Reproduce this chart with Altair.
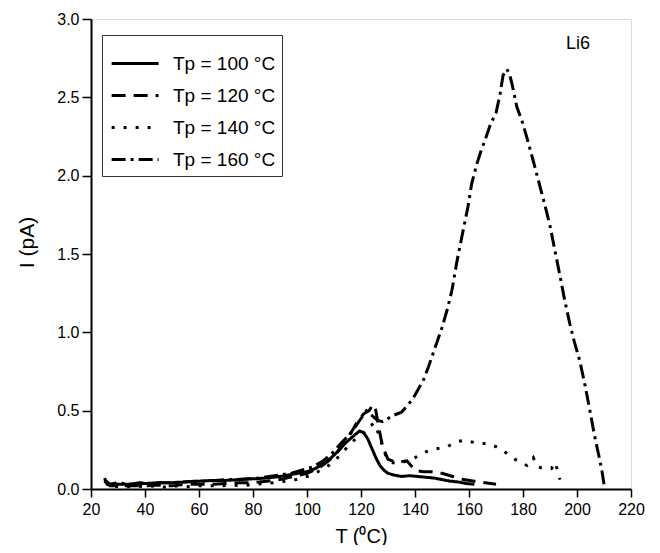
import altair as alt
import pandas as pd

labels = ["Tp = 100 °C", "Tp = 120 °C", "Tp = 140 °C", "Tp = 160 °C"]

T100 = [25, 26, 28, 30, 35, 40, 45, 50, 55, 60, 65, 70, 75, 80, 85, 90, 95, 100, 103, 106, 109, 112, 114, 116, 118, 119.5, 121, 122.5, 124, 125.5, 127, 128.5, 130, 132, 135, 138, 141, 144, 147, 150, 153, 156, 159, 162]
I100 = [0.07, 0.03, 0.03, 0.03, 0.03, 0.035, 0.04, 0.04, 0.045, 0.05, 0.055, 0.055, 0.06, 0.065, 0.07, 0.08, 0.095, 0.11, 0.13, 0.16, 0.2, 0.25, 0.29, 0.32, 0.35, 0.37, 0.36, 0.32, 0.26, 0.2, 0.15, 0.12, 0.1, 0.09, 0.08, 0.085, 0.08, 0.075, 0.07, 0.06, 0.05, 0.045, 0.035, 0.03]

T120 = [25, 27, 30, 35, 40, 45, 50, 55, 60, 65, 70, 75, 80, 85, 90, 95, 100, 104, 108, 111, 114, 117, 119, 121, 123, 124.5, 125.5, 126.5, 128, 130, 133, 137, 140, 143, 146, 150, 154, 158, 162, 166, 170]
I120 = [0.05, 0.02, 0.02, 0.02, 0.02, 0.025, 0.02, 0.03, 0.03, 0.03, 0.035, 0.04, 0.04, 0.05, 0.06, 0.08, 0.1, 0.13, 0.18, 0.23, 0.3, 0.38, 0.44, 0.48, 0.5, 0.54, 0.5, 0.4, 0.27, 0.19, 0.17, 0.18, 0.12, 0.11, 0.11, 0.1, 0.08, 0.06, 0.05, 0.04, 0.03]

T140 = [25, 28, 32, 36, 40, 44, 48, 52, 56, 60, 64, 68, 72, 76, 80, 84, 88, 92, 96, 100, 104, 108, 112, 115, 118, 121, 123, 125, 127, 129, 131, 134, 137, 140, 143, 146, 149, 152, 155, 158, 161, 164, 167, 170, 173, 176, 179, 181.5, 183.8, 185.5, 188, 190.5, 192, 193, 193.7]
I140 = [0.05, 0.02, 0.01, 0.02, 0.015, 0.02, 0.01, 0.02, 0.015, 0.02, 0.02, 0.02, 0.025, 0.02, 0.03, 0.035, 0.04, 0.05, 0.06, 0.08, 0.11, 0.15, 0.21, 0.27, 0.32, 0.36, 0.4, 0.42, 0.33, 0.22, 0.17, 0.16, 0.18, 0.2, 0.23, 0.25, 0.26, 0.27, 0.3, 0.31, 0.3, 0.29, 0.29, 0.27, 0.24, 0.2, 0.17, 0.15, 0.2, 0.14, 0.13, 0.13, 0.17, 0.1, 0.06]

T160 = [25, 27, 30, 34, 38, 42, 46, 50, 54, 58, 62, 66, 70, 74, 78, 82, 86, 90, 94, 98, 102, 106, 110, 113, 116, 118, 120, 122, 124, 126, 128, 130, 132, 135, 137, 139, 141, 143, 145, 147, 150, 152, 153.7, 155.5, 157, 159.6, 161, 163, 164.5, 166, 168, 170, 171.5, 172.6, 174, 175, 176, 177.7, 179.6, 181.5, 183.7, 186, 188, 190, 191.5, 193.7, 195.5, 197.4, 199, 201, 203, 205, 206.5, 208, 209.2, 210]
I160 = [0.06, 0.03, 0.04, 0.03, 0.04, 0.035, 0.04, 0.04, 0.045, 0.05, 0.05, 0.055, 0.06, 0.06, 0.065, 0.07, 0.08, 0.09, 0.1, 0.12, 0.14, 0.18, 0.24, 0.3, 0.35, 0.4, 0.45, 0.5, 0.47, 0.44, 0.43, 0.45, 0.47, 0.49, 0.53, 0.57, 0.63, 0.69, 0.78, 0.88, 1.03, 1.15, 1.27, 1.45, 1.58, 1.8, 1.95, 2.08, 2.16, 2.23, 2.33, 2.4, 2.52, 2.64, 2.68, 2.65, 2.58, 2.44, 2.35, 2.24, 2.1, 1.95, 1.82, 1.68, 1.55, 1.36, 1.2, 1.05, 0.94, 0.82, 0.66, 0.48, 0.34, 0.22, 0.12, 0.03]

x_ticks = list(range(20, 221, 10))
y_ticks = [i * 0.25 for i in range(13)]
annot_T = [200.4]
annot_I = [2.84]
annot_text = ["Li6"]

rows = []
for k, (lab, T, I) in enumerate(zip(labels, [T100, T120, T140, T160], [I100, I120, I140, I160])):
    for j, (t, v) in enumerate(zip(T, I)):
        rows.append({"T": t, "I": v, "series": lab, "idx": j})
df = pd.DataFrame(rows)

FONT = "Liberation Sans"
dashes = [[1, 0], [14, 8], [3, 9], [14, 5, 3, 5]]

x_axis = alt.Axis(
    values=x_ticks,
    labelExpr="datum.value % 20 === 0 ? datum.label : ''",
    format="d",
    tickSize={"condition": {"test": "datum.value % 20 === 0", "value": 8}, "value": 5},
    tickWidth=1.5, tickColor="black",
    domainColor="black", domainWidth=2,
    labelFont=FONT, labelFontSize=16, labelColor="black", labelPadding=4,
    labelFlush=False, labelOverlap=False,
    grid=False,
    titleFont=FONT, titleFontSize=20, titleFontWeight="normal", titleColor="black",
    titleY=53, titleBaseline="alphabetic",
)
y_axis = alt.Axis(
    values=y_ticks,
    labelExpr="abs(datum.value*2 - round(datum.value*2)) < 0.001 ? format(datum.value, '.1f') : ''",
    tickSize={"condition": {"test": "abs(datum.value*2 - round(datum.value*2)) < 0.001", "value": 9}, "value": 5},
    tickWidth=1.5, tickColor="black",
    domainColor="black", domainWidth=2,
    labelFont=FONT, labelFontSize=16, labelColor="black", labelPadding=3,
    labelFlush=False, labelOverlap=False,
    grid=False,
    titleFont=FONT, titleFontSize=21, titleFontWeight="normal", titleColor="black",
    titleX=-58, titleY=223, titleAngle=-90, titleBaseline="alphabetic", titleAlign="center",
)

xs = alt.Scale(domain=[20, 220], nice=False, zero=False)
ys = alt.Scale(domain=[0, 3], nice=False, zero=False)

lines = alt.Chart(df).mark_line(strokeWidth=3, color="black", clip=True).encode(
    x=alt.X("T:Q", scale=xs, axis=x_axis, title="T (⁰C)"),
    y=alt.Y("I:Q", scale=ys, axis=y_axis, title="I (pA)"),
    strokeDash=alt.StrokeDash(
        "series:N",
        scale=alt.Scale(domain=labels, range=dashes),
        legend=alt.Legend(
            title=" ", titleFontSize=6, titlePadding=7,
            orient="none", legendX=11, legendY=16,
            fillColor="white", strokeColor="#333333",
            padding=6, rowPadding=12,
            symbolType="M-1,0H7", symbolSize=138, symbolStrokeWidth=3,
            symbolStrokeColor="black",
            labelFont=FONT, labelFontSize=19, labelColor="black",
            labelOffset=46, labelLimit=300,
        ),
    ),
    order="idx:Q",
)

annot_df = pd.DataFrame({"T": annot_T, "I": annot_I, "text": annot_text})
annot = alt.Chart(annot_df).mark_text(font=FONT, fontSize=18, color="black", align="center", baseline="middle").encode(
    x=alt.X("T:Q", scale=xs),
    y=alt.Y("I:Q", scale=ys),
    text="text:N",
)

chart = alt.layer(lines, annot).properties(
    width=540, height=470,
    autosize="none",
    padding={"left": 83, "top": 11, "right": 19, "bottom": 56},
).configure_view(stroke="black", strokeWidth=1.5).configure(background="white")

chart.save("out.html", embed_options={"renderer": "svg", "actions": False})
